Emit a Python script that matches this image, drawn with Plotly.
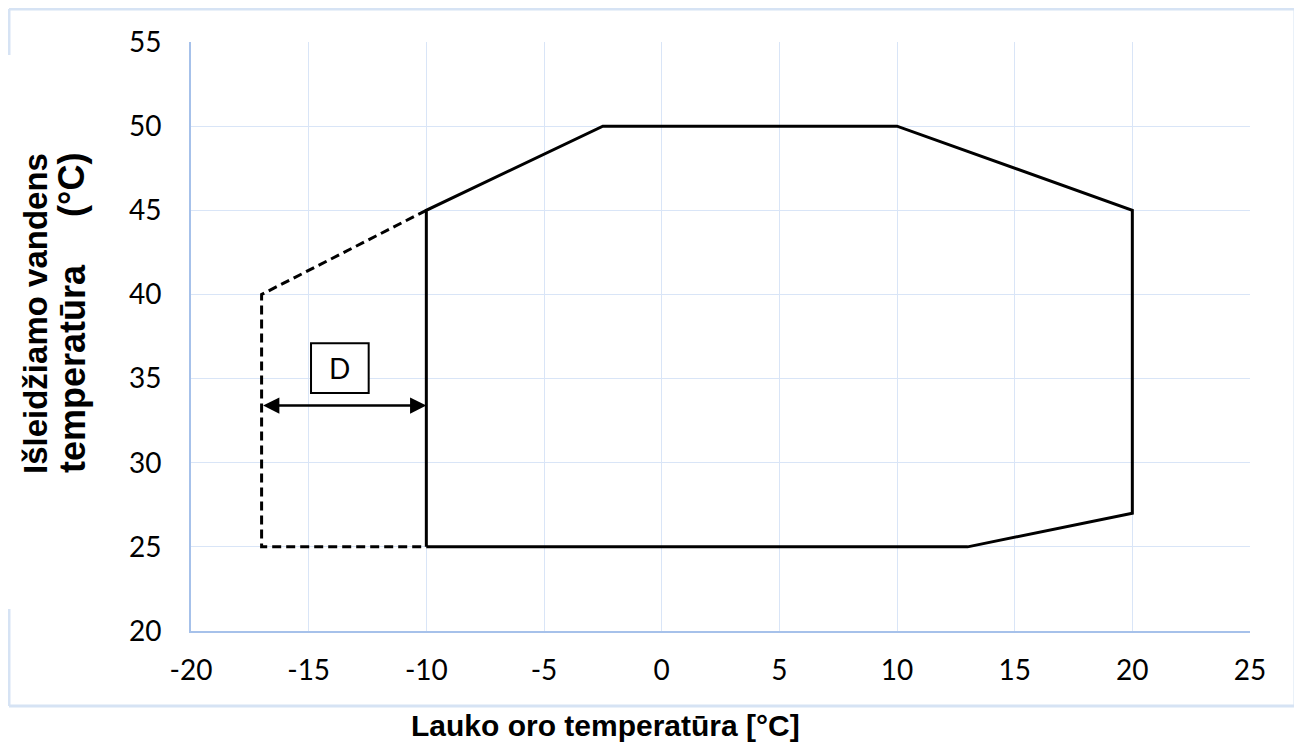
import plotly.graph_objects as go

# ---- data ----
solid_x = [-10, -10, -2.5, 10, 20, 20, 13, -10]
solid_y = [25, 45, 50, 50, 45, 27, 25, 25]
dash_x = [-10, -17, -17, -10]
dash_y = [45, 40, 25, 25]
arrow_x = [-17, -10]
arrow_y = 33.4
box_x = [-14.9, -12.45]
box_y = [34.15, 37.1]
box_label = "D"
x_ticks = [-20, -15, -10, -5, 0, 5, 10, 15, 20, 25]
y_ticks = [20, 25, 30, 35, 40, 45, 50, 55]
x_title = "Lauko oro temperatūra [°C]"
y_title_1 = "Išleidžiamo vandens"
y_title_2 = "temperatūra"
y_title_3 = "(°C)"

OFF = 8  # page body margin
W, H = 1302 - OFF, 744 - OFF
PL, PR, PT, PB = 191, 1250, 42, 631  # plot area in window pixels
L, T = PL - OFF, PT - OFF
R, B = W - (PR - OFF), H - (PB - OFF)
PW, PH = PR - PL, PB - PT


def px(x):
    return (x - PL) / PW


def py(y):
    return (PB - y) / PH


fig = go.Figure()
fig.add_trace(go.Scatter(x=solid_x, y=solid_y, mode="lines",
                         line=dict(color="black", width=3), hoverinfo="skip"))
fig.add_trace(go.Scatter(x=dash_x, y=dash_y, mode="lines",
                         line=dict(color="black", width=3, dash="9px,5px"), hoverinfo="skip"))

# box with D
fig.add_shape(type="rect", x0=box_x[0], x1=box_x[1], y0=box_y[0], y1=box_y[1],
              xref="x", yref="y", line=dict(color="black", width=2), fillcolor="white")
fig.add_annotation(x=sum(box_x) / 2, y=sum(box_y) / 2, xref="x", yref="y",
                   text=box_label, showarrow=False, xanchor="center", yanchor="middle",
                   font=dict(family="Lato", size=28, color="black"))

# double arrow
fig.add_annotation(x=arrow_x[1], y=arrow_y, ax=arrow_x[0], ay=arrow_y,
                   xref="x", yref="y", axref="x", ayref="y", text="",
                   showarrow=True, arrowhead=2, startarrowhead=2, arrowside="end+start",
                   arrowsize=1.3, startarrowsize=1.3, arrowwidth=2.5, arrowcolor="black")

# outer border (with gap on the left behind the y title)
bc = "#d6e3f4"
bw = 3
x0b, x1b, y0b, y1b = px(9), px(1295), py(706), py(9)
fig.add_shape(type="line", xref="paper", yref="paper", x0=x0b, x1=x1b, y0=y1b, y1=y1b,
              line=dict(color=bc, width=bw))
fig.add_shape(type="line", xref="paper", yref="paper", x0=x0b, x1=x1b, y0=y0b, y1=y0b,
              line=dict(color=bc, width=bw))
fig.add_shape(type="line", xref="paper", yref="paper", x0=x1b, x1=x1b, y0=y0b, y1=y1b,
              line=dict(color=bc, width=bw))
fig.add_shape(type="line", xref="paper", yref="paper", x0=x0b, x1=x0b, y0=py(55), y1=y1b,
              line=dict(color=bc, width=bw))
fig.add_shape(type="line", xref="paper", yref="paper", x0=x0b, x1=x0b, y0=y0b, y1=py(609),
              line=dict(color=bc, width=bw))

# titles
tf = "Liberation Sans, Arial, sans-serif"
common = dict(xref="paper", yref="paper", showarrow=False, xanchor="center", yanchor="middle")
fig.add_annotation(x=px(605), y=py(725), text=f"<b>{x_title}</b>",
                   font=dict(family=tf, size=30, color="black"), **common)
fig.add_annotation(x=px(35), y=py(314), text=f"<b>{y_title_1}</b>", textangle=-90,
                   font=dict(family=tf, size=33, color="black"), **common)
fig.add_annotation(x=px(72), y=py(369), text=f"<b>{y_title_2}</b>", textangle=-90,
                   font=dict(family=tf, size=36, color="black"), **common)
fig.add_annotation(x=px(72), y=py(185), text=f"<b>{y_title_3}</b>", textangle=-90,
                   font=dict(family=tf, size=36, color="black"), **common)

gc = "#d9e5f7"
lc = "#a6c1ea"
fig.update_xaxes(range=[-20, 25], tickvals=x_ticks, ticktext=[str(v) for v in x_ticks],
                 showgrid=True, gridcolor=gc, gridwidth=1, zeroline=False,
                 showline=True, linecolor=lc, linewidth=2, ticks="", ticklabelstandoff=13,
                 tickfont=dict(family="Lato", size=28, color="black"), fixedrange=True)
fig.update_yaxes(range=[20, 55], tickvals=y_ticks, ticktext=[str(v) for v in y_ticks],
                 showgrid=True, gridcolor=gc, gridwidth=1, zeroline=False,
                 showline=True, linecolor=lc, linewidth=2, ticks="", ticklabelstandoff=22,
                 tickfont=dict(family="Lato", size=28, color="black"), fixedrange=True)

fig.update_layout(width=W, height=H, margin=dict(l=L, r=R, t=T, b=B, autoexpand=False),
                  plot_bgcolor="white", paper_bgcolor="white", showlegend=False)

fig.write_html("out.html")
